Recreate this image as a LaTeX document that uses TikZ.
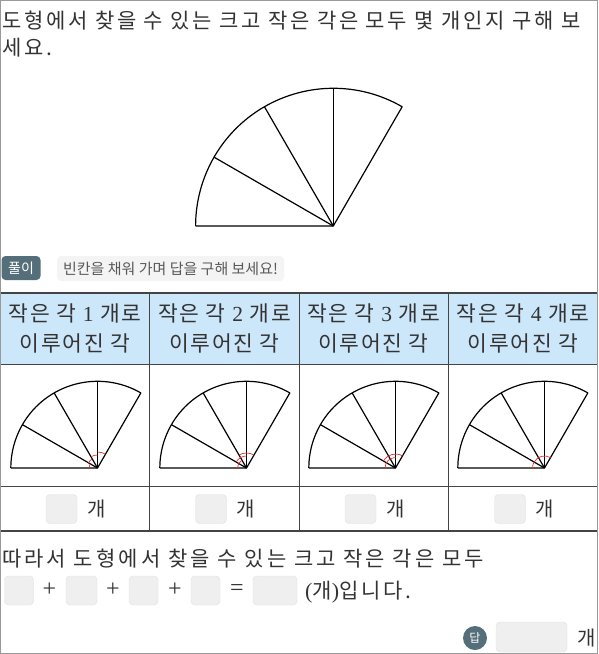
\documentclass[tikz,border=0pt]{standalone}
\usepackage{fontspec}
\setmainfont{Noto Sans CJK KR}
\newfontfamily\spaced[LetterSpace=8]{Noto Sans CJK KR}
\newfontfamily\spacedtitle[LetterSpace=13]{Noto Sans CJK KR}
\newfontfamily\spacedbottom[LetterSpace=14.5]{Noto Sans CJK KR}
\newfontfamily\serifnum{Liberation Serif}
\definecolor{txt}{HTML}{333333}
\definecolor{slate}{HTML}{546E7A}
\definecolor{hdrblue}{RGB}{204,230,250}
\definecolor{boxgray}{HTML}{EFEFEF}
\definecolor{boxedge}{HTML}{E0E0E0}
\definecolor{tline}{HTML}{444444}
\definecolor{markred}{HTML}{E83030}
\tikzset{
  ktext/.style={anchor=base west, inner sep=0pt, text=txt, font=\spaced\fontsize{21}{25}\selectfont},
  hdrtext/.style={anchor=base, inner sep=0pt, text=txt, font=\spaced\fontsize{21.5}{25}\selectfont},
  ansbox/.style={draw=boxedge, fill=boxgray, rounded corners=4pt, inner sep=0pt, minimum height=29pt},
  fanline/.style={line width=1.2pt, line join=round},
  anglemark/.style={markred, line width=0.7pt},
  tthick/.style={tline, line width=2pt},
  tthin/.style={tline, line width=1pt},
  optext/.style={text=txt, inner sep=0pt, font=\serifnum\fontsize{24}{26}\selectfont}
}
\newcommand{\fanfig}[1]{%
  \draw[fanline] (180:#1) -- (0,0) -- (60:#1) arc[start angle=60, end angle=180, radius=#1];
  \draw[fanline] (0,0) -- (90:#1);
  \draw[fanline] (0,0) -- (120:#1);
  \draw[fanline] (0,0) -- (150:#1);
}
\begin{document}
\begin{tikzpicture}[x=1pt,y=-1pt]
\useasboundingbox (0,0) rectangle (598,654);
\fill[white] (0,0) rectangle (598,654);

% title
\node[ktext, font=\spacedtitle\fontsize{21}{25}\selectfont] (t1) at (2,28) {도형에서 찾을 수 있는 크고 작은 각은 모두 몇 개인지 구해 보};
\node[ktext, font=\spacedtitle\fontsize{21}{25}\selectfont] (t2) at (2,55) {세요.};

% main fan
\begin{scope}[shift={(333.3,226)}, yscale=-1]
  \fanfig{137.7}
\end{scope}

% badge
\node[fill=slate, rounded corners=4pt, minimum width=39pt, minimum height=24pt, inner sep=0pt,
      text=white, font=\fontsize{14}{16}\selectfont] (badge) at (21,268) {풀이};
\node[fill=boxgray!70!white, rounded corners=4pt, minimum width=227pt, minimum height=25pt, inner sep=0pt,
      text=black!65, font=\fontsize{15}{17}\selectfont] (hint) at (170.5,268.5) {빈칸을 채워 가며 답을 구해 보세요!};

% table
\fill[hdrblue] (0,293) rectangle (598,364.5);
\draw[tthin] (0,364.5) -- (598,364.5);
\draw[tthin] (0,486) -- (598,486);
\foreach \xx in {149.5,299,448.5} \draw[tthin] (\xx,293) -- (\xx,530.5);
\draw[tthick] (0,293) -- (598,293);
\draw[tthick] (0,530.5) -- (598,530.5);

% header texts
\node[hdrtext] (h1a) at (75,321) {작은 각 {\serifnum 1} 개로};
\node[hdrtext] (h1b) at (75,351) {이루어진 각};
\node[hdrtext] (h2a) at (224.5,321) {작은 각 {\serifnum 2} 개로};
\node[hdrtext] (h2b) at (224.5,351) {이루어진 각};
\node[hdrtext] (h3a) at (373.5,321) {작은 각 {\serifnum 3} 개로};
\node[hdrtext] (h3b) at (373.5,351) {이루어진 각};
\node[hdrtext] (h4a) at (523,321) {작은 각 {\serifnum 4} 개로};
\node[hdrtext] (h4b) at (523,351) {이루어진 각};

% small fans
\begin{scope}[shift={(97.5,468)}, yscale=-1]
  \fanfig{86.7}
  \draw[anglemark] (60:16) arc[start angle=60, end angle=90, radius=16];
  \draw[anglemark] (90:13) arc[start angle=90, end angle=120, radius=13];
  \draw[anglemark] (120:10.5) arc[start angle=120, end angle=150, radius=10.5];
  \draw[anglemark] (150:8.5) arc[start angle=150, end angle=180, radius=8.5];
\end{scope}
\begin{scope}[shift={(246.5,468)}, yscale=-1]
  \fanfig{86.7}
  \draw[anglemark] (60:15) arc[start angle=60, end angle=120, radius=15];
  \draw[anglemark] (90:12) arc[start angle=90, end angle=150, radius=12];
  \draw[anglemark] (120:9) arc[start angle=120, end angle=180, radius=9];
\end{scope}
\begin{scope}[shift={(395.5,468)}, yscale=-1]
  \fanfig{86.7}
  \draw[anglemark] (60:14) arc[start angle=60, end angle=150, radius=14];
  \draw[anglemark] (90:10.5) arc[start angle=90, end angle=180, radius=10.5];
\end{scope}
\begin{scope}[shift={(544.5,468)}, yscale=-1]
  \fanfig{86.7}
  \draw[anglemark] (60:12) arc[start angle=60, end angle=180, radius=12];
\end{scope}

% row 3 answer boxes
\node[ansbox, minimum width=31pt] (r1) at (61.5,509) {};
\node[ktext, font=\fontsize{20}{24}\selectfont] (g1) at (87,516) {개};
\node[ansbox, minimum width=31pt] (r2) at (211,509) {};
\node[ktext, font=\fontsize{20}{24}\selectfont] (g2) at (236.5,516) {개};
\node[ansbox, minimum width=31pt] (r3) at (360.5,509) {};
\node[ktext, font=\fontsize{20}{24}\selectfont] (g3) at (386,516) {개};
\node[ansbox, minimum width=31pt] (r4) at (510,509) {};
\node[ktext, font=\fontsize{20}{24}\selectfont] (g4) at (535.5,516) {개};

% bottom sentence
\node[ktext, font=\spacedbottom\fontsize{21}{25}\selectfont] (s1) at (2,566) {따라서 도형에서 찾을 수 있는 크고 작은 각은 모두};
\node[ansbox, minimum width=29pt] (e1) at (19,590.5) {};
\node[optext] (p1) at (49.5,590) {+};
\node[ansbox, minimum width=31pt] (e2) at (81.5,590.5) {};
\node[optext] (p2) at (113,590) {+};
\node[ansbox, minimum width=29pt] (e3) at (143.5,590.5) {};
\node[optext] (p3) at (175,590) {+};
\node[ansbox, minimum width=29pt] (e4) at (205.5,590.5) {};
\node[optext] (eq) at (237,590) {=};
\node[ansbox, minimum width=44pt] (e5) at (275,590.5) {};
\node[ktext, font=\spacedtitle\fontsize{21}{25}\selectfont] (s2) at (305,598) {{\serifnum\fontsize{22}{24}\selectfont(}개{\serifnum\fontsize{22}{24}\selectfont)}입니다.};

% final answer
\node[circle, fill=slate, minimum size=24pt, inner sep=0pt, text=white,
      font=\fontsize{12}{14}\selectfont] (dap) at (475,638) {답};
\node[ansbox, minimum width=71pt, minimum height=30pt] (final) at (531.5,637) {};
\node[ktext, font=\fontsize{20}{24}\selectfont] (gf) at (577,645) {개};

% frame
\draw[black!40, line width=1pt] (0.5,0.5) rectangle (597.5,653.5);
\end{tikzpicture}
\end{document}
